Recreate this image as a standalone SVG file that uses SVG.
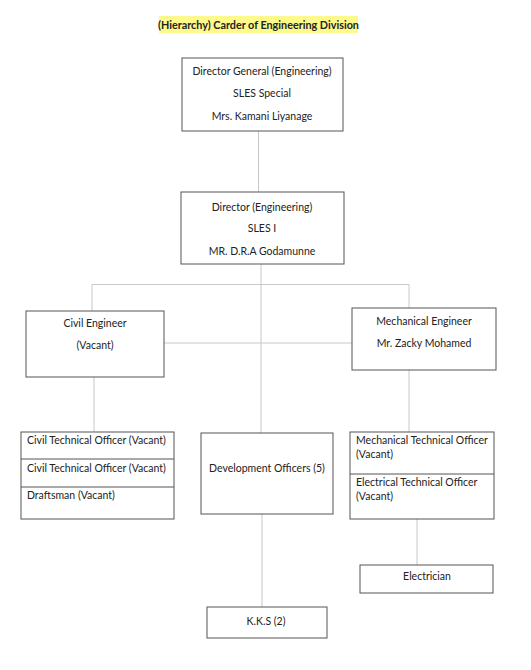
<svg xmlns="http://www.w3.org/2000/svg" width="531" height="670" viewBox="0 0 531 670">
<style>
.box{fill:#fff;stroke:#555;stroke-width:1}
.div{stroke:#555;stroke-width:1}
.con{fill:none;stroke:#c8c8c8;stroke-width:1}
text{font-family:Lato,"Open Sans","Liberation Sans",sans-serif;font-size:10.5px;fill:#222}
.c{text-anchor:middle}
.t{font-weight:bold;font-size:10.8px}
</style>
<rect width="531" height="670" fill="#fff"/>
<g id="title">
<rect x="159" y="16" width="199" height="17" fill="#fdf98a"/>
<text class="c t" x="258.5" y="29">(Hierarchy) Carder of Engineering Division</text>
</g>
<g id="connectors">
<line class="con" x1="258.5" y1="131" x2="258.5" y2="192"/>
<line class="con" x1="261" y1="264" x2="261" y2="433"/>
<polyline class="con" points="92,311 92,284.5 409,284.5 409,308"/>
<line class="con" x1="164" y1="343" x2="352" y2="343"/>
<line class="con" x1="94" y1="377" x2="94" y2="432"/>
<line class="con" x1="409" y1="370" x2="409" y2="432"/>
<line class="con" x1="262" y1="514" x2="262" y2="607"/>
<line class="con" x1="417" y1="519" x2="417" y2="565"/>
</g>
<g id="director-general">
<rect class="box" x="182" y="58" width="161" height="73"/>
<text class="c" x="262" y="75">Director General (Engineering)</text>
<text class="c" x="262" y="97">SLES Special</text>
<text class="c" x="262" y="120">Mrs. Kamani Liyanage</text>
</g>
<g id="director">
<rect class="box" x="181" y="192" width="163" height="72"/>
<text class="c" x="262" y="211">Director (Engineering)</text>
<text class="c" x="262" y="232">SLES I</text>
<text class="c" x="262" y="255">MR. D.R.A Godamunne</text>
</g>
<g id="civil-engineer">
<rect class="box" x="26" y="311" width="138" height="66"/>
<text class="c" x="95" y="327">Civil Engineer</text>
<text class="c" x="95" y="349">(Vacant)</text>
</g>
<g id="mechanical-engineer">
<rect class="box" x="352" y="308" width="144" height="62"/>
<text class="c" x="424" y="325">Mechanical Engineer</text>
<text class="c" x="424" y="347">Mr. Zacky Mohamed</text>
</g>
<g id="civil-technical">
<rect class="box" x="21" y="432" width="153" height="87"/>
<line class="div" x1="21" y1="459" x2="174" y2="459"/>
<line class="div" x1="21" y1="487" x2="174" y2="487"/>
<text x="27" y="444">Civil Technical Officer (Vacant)</text>
<text x="27" y="472">Civil Technical Officer (Vacant)</text>
<text x="27" y="499">Draftsman (Vacant)</text>
</g>
<g id="development-officers">
<rect class="box" x="201" y="433" width="132" height="81"/>
<text class="c" x="267" y="472">Development Officers (5)</text>
</g>
<g id="mech-elec-technical">
<rect class="box" x="350" y="432" width="144" height="87"/>
<line class="div" x1="350" y1="474" x2="494" y2="474"/>
<text x="356" y="444">Mechanical Technical Officer</text>
<text x="356" y="458">(Vacant)</text>
<text x="356" y="486">Electrical Technical Officer</text>
<text x="356" y="500">(Vacant)</text>
</g>
<g id="electrician">
<rect class="box" x="360" y="565" width="133" height="28"/>
<text class="c" x="427" y="580">Electrician</text>
</g>
<g id="kks">
<rect class="box" x="207" y="607" width="120" height="31"/>
<text class="c" x="266" y="625">K.K.S (2)</text>
</g>
</svg>
